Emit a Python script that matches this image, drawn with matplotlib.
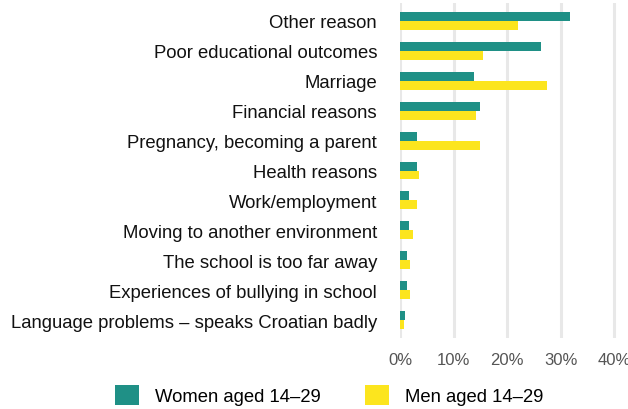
import matplotlib
matplotlib.use("Agg")
import matplotlib.pyplot as plt
from matplotlib.patches import Patch
import numpy as np

plt.rcParams['font.family'] = ['Liberation Sans', 'DejaVu Sans']

categories = [
    "Other reason",
    "Poor educational outcomes",
    "Marriage",
    "Financial reasons",
    "Pregnancy, becoming a parent",
    "Health reasons",
    "Work/employment",
    "Moving to another environment",
    "The school is too far away",
    "Experiences of bullying in school",
    "Language problems \u2013 speaks Croatian badly",
]
women = [31.7, 26.4, 13.9, 15.0, 3.2, 3.2, 1.7, 1.7, 1.3, 1.3, 0.9]
men = [22.1, 15.4, 27.4, 14.1, 15.0, 3.6, 3.2, 2.4, 1.9, 1.9, 0.75]
xticks = [0, 10, 20, 30, 40]
xticklabels = ["0%", "10%", "20%", "30%", "40%"]
series_names = ["Women aged 14\u201329", "Men aged 14\u201329"]

teal = "#1f9086"
yellow = "#fce51e"

W, H = 628, 410
fig = plt.figure(figsize=(W / 100, H / 100), dpi=100)
ax = fig.add_axes([400 / W, 1 - 339 / H, 217 / W, 335 / H])

y = np.arange(len(categories))
bh = 0.3
ax.barh(y - bh / 2, women, height=bh, color=teal, zorder=3)
ax.barh(y + bh / 2, men, height=bh, color=yellow, zorder=3)

ax.set_xlim(0, 40.5)
ax.set_ylim(len(categories) - 0.4, -0.6)
ax.set_xticks(xticks)
ax.set_xticklabels(xticklabels, fontsize=12, color="#555555")
ax.set_yticks(y)
ax.set_yticklabels(categories, fontsize=13.3, color="#111111")
ax.tick_params(axis="both", length=0)
ax.tick_params(axis="y", pad=16.5)
ax.tick_params(axis="x", pad=10)
ax.grid(axis="x", color="#e8e8e8", linewidth=2.2, zorder=0)
ax.set_axisbelow(True)
for s in ax.spines.values():
    s.set_visible(False)

handles = [Patch(facecolor=teal), Patch(facecolor=yellow)]
fig.legend(handles, series_names, loc="center", bbox_to_anchor=(329 / W, 1 - 396 / H),
           ncol=2, frameon=False, fontsize=13.3, handlelength=1.3, handleheight=1.3,
           handletextpad=0.85, columnspacing=2.4)

fig.savefig("out.png", dpi=100)
